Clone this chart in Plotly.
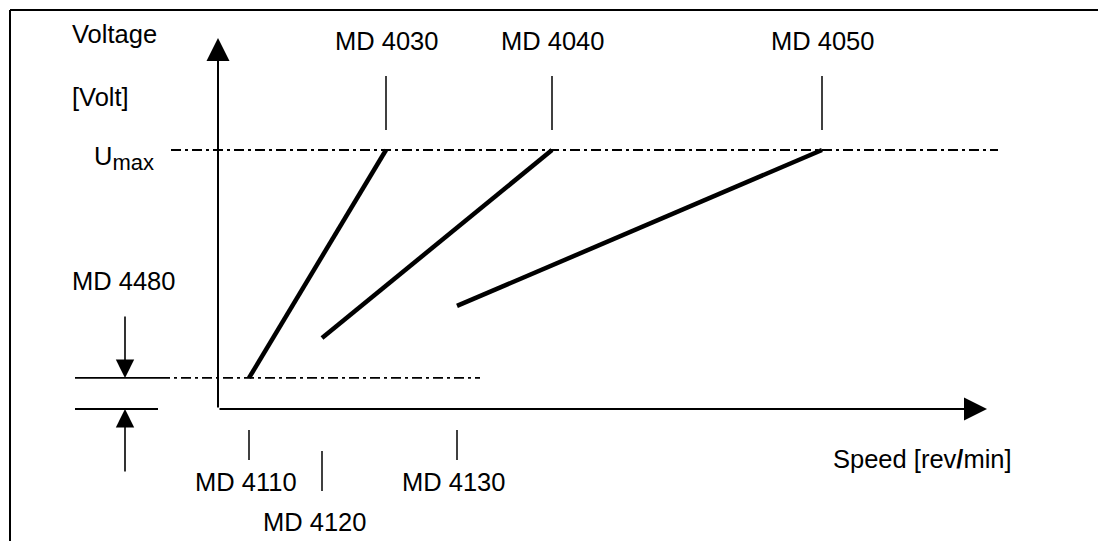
import plotly.graph_objects as go

# ---------------- data (schematic units: speed in rev/min, voltage in V) ----------------
start_names = ["MD 4110", "MD 4120", "MD 4130"]     # speed where each characteristic starts
start_speeds = [310, 1040, 2390]
start_voltages = [1.2, 2.74, 3.98]
max_names = ["MD 4030", "MD 4040", "MD 4050"]       # speed where Umax is reached
max_speeds = [1680, 3340, 6040]
u_max = 10.0
u_offset = 1.2                                      # MD 4480 offset voltage
axis_labels = ["Voltage", "[Volt]", "Speed [rev<b>/</b>min]"]

# ---------------- layout helpers ----------------
W, H = 1098, 541
X0, Y0 = 218, 409          # origin of the diagram axes (px)
SX, SY = 0.1, 25.9         # px per rev/min, px per volt


def X(px):
    return (px - X0) / SX


def Y(py):
    return (Y0 - py) / SY


FONT = dict(family="Liberation Sans, Arial, sans-serif", size=25.5, color="black")
BLACK = "black"
DASHDOT = "10px,4px,3px,4px"

fig = go.Figure()


def seg(x, y, width=1.5, dash=None):
    fig.add_trace(go.Scatter(x=x, y=y, mode="lines", hoverinfo="skip", showlegend=False,
                             line=dict(color=BLACK, width=width, dash=dash)))


# characteristic lines
for s, v, e in zip(start_speeds, start_voltages, max_speeds):
    seg([s, e], [v, u_max], width=4.5)

# Umax reference line
seg([X(171), X(998)], [u_max, u_max], width=1.9, dash=DASHDOT)
# MD 4480 offset line
seg([X(75), X(160)], [u_offset, u_offset], width=1.8)
seg([X(160), X(480)], [u_offset, u_offset], width=1.9, dash=DASHDOT)
seg([X(75), X(158)], [0, 0], width=1.8)

# ticks above for the max speeds
for e in max_speeds:
    seg([e, e], [Y(130), Y(76)], width=1.5)
# ticks below for the start speeds
tick_rows = [(430, 460), (451, 491), (430, 460)]
for s, (t0, t1) in zip(start_speeds, tick_rows):
    seg([s, s], [Y(t0), Y(t1)], width=1.5)

annotations = []


def arrow(x_tip, y_tip, x_tail, y_tail, width=2):
    annotations.append(dict(x=x_tip, y=y_tip, ax=x_tail, ay=y_tail, xref="x", yref="y",
                            axref="x", ayref="y", text="", showarrow=True, arrowhead=2,
                            arrowsize=2.3, arrowwidth=width, arrowcolor=BLACK))


# axes
arrow(0, Y(38), 0, 0)
arrow(X(987), 0, 0, 0)
# MD 4480 arrows
arrow(X(125), u_offset, X(125), Y(315), width=1.6)
arrow(X(125), 0, X(125), Y(473), width=1.6)


def label(text, px, py, xanchor="center"):
    annotations.append(dict(x=X(px), y=Y(py), xref="x", yref="y", text=text, showarrow=False,
                            xanchor=xanchor, yanchor="middle", font=FONT))


label(axis_labels[0], 70, 34, "left")
label(axis_labels[1], 70, 97, "left")
label("U<sub><span style='font-size:22px'>max</span></sub>", 156, 158, "right")
label("MD 4480", 70, 281, "left")
for n, e in zip(max_names, max_speeds):
    annotations.append(dict(x=e, y=Y(41), xref="x", yref="y", text=n, showarrow=False,
                            xanchor="center", yanchor="middle", font=FONT))
label_rows = [(246, 482), (314, 522), (453, 482)]
for n, (lx, ly) in zip(start_names, label_rows):
    label(n, lx, ly)
label(axis_labels[2], 922, 459)

# frame lines (top and left border)
shapes = [
    dict(type="line", xref="paper", yref="paper", x0=10 / W, x1=1, y0=1 - 10 / H, y1=1 - 10 / H,
         line=dict(color=BLACK, width=2)),
    dict(type="line", xref="paper", yref="paper", x0=10 / W, x1=10 / W, y0=0, y1=1 - 10 / H,
         line=dict(color=BLACK, width=2)),
]

fig.update_layout(
    width=W, height=H, margin=dict(l=0, r=0, t=0, b=0),
    paper_bgcolor="white", plot_bgcolor="white",
    xaxis=dict(range=[X(0), X(W)], visible=False, fixedrange=True),
    yaxis=dict(range=[Y(H), Y(0)], visible=False, fixedrange=True),
    annotations=annotations, shapes=shapes, showlegend=False,
)

fig.write_html("out.html", config={"displayModeBar": False},
               post_script="document.body.style.margin='0';")
